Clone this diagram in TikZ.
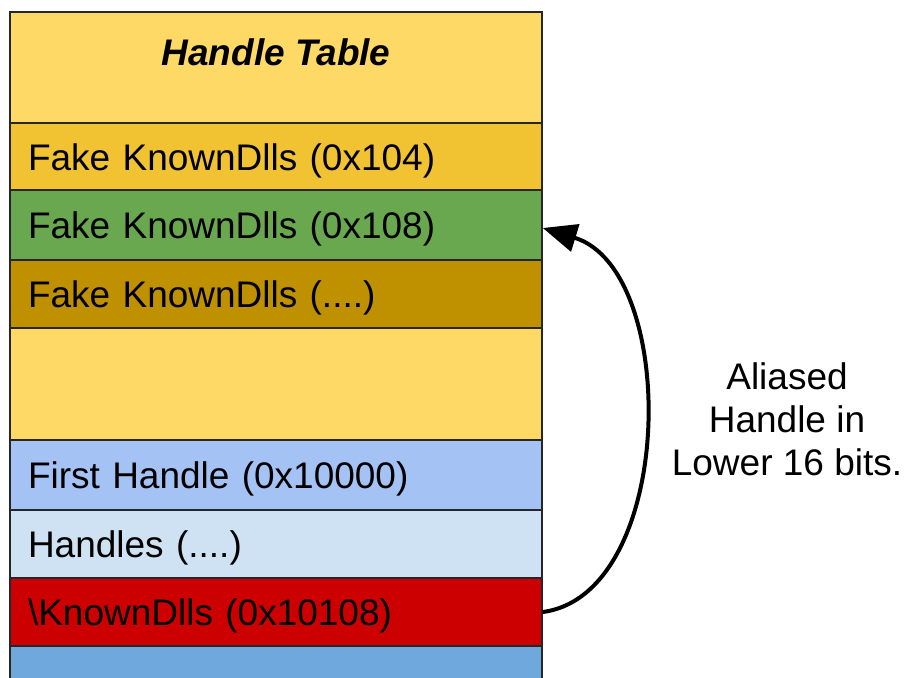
\documentclass[tikz,border=0pt]{standalone}
\usepackage{fontspec}
\setmainfont{Liberation Sans}
\usetikzlibrary{arrows.meta}
\definecolor{ytitle}{HTML}{FFD966}
\definecolor{yone}{HTML}{F1C232}
\definecolor{gtwo}{HTML}{6AA84F}
\definecolor{ythree}{HTML}{BF9000}
\definecolor{bfour}{HTML}{A4C2F4}
\definecolor{bfive}{HTML}{CFE2F3}
\definecolor{rsix}{HTML}{CC0000}
\definecolor{bseven}{HTML}{6FA8DC}
\definecolor{edge}{HTML}{262626}
\tikzset{
  cell/.style={draw=edge, line width=1.6pt, rectangle, minimum width=532pt,
    text width=496pt, align=left, inner sep=0pt,
    text height=27pt, text depth=0pt,
    font=\fontsize{37}{44}\selectfont},
  conn/.style={line width=4pt, -{Triangle[length=34pt,width=28pt]}},
  lbl/.style={align=center, font=\fontsize{37}{43}\selectfont}
}
\begin{document}
\begin{tikzpicture}[x=1pt,y=-1pt]
\useasboundingbox (0,0) rectangle (904,677);
\clip (0,0) rectangle (904,677);
\fill[white] (0,0) rectangle (904,677);
\node[cell, fill=ytitle, minimum height=111pt, text height=0pt] (title) at (276,67.5) {};
\node[font=\fontsize{37}{44}\selectfont\bfseries\itshape] (ttext) at (276,52) {Handle Table};
\node[cell, fill=yone, minimum height=67pt] (r1) at (276,156.5) {Fake KnownDlls (0x104)};
\node[cell, fill=gtwo, minimum height=70pt] (r2) at (276,225) {Fake KnownDlls (0x108)};
\node[cell, fill=ythree, minimum height=68pt] (r3) at (276,294) {Fake KnownDlls (....)};
\node[cell, fill=ytitle, minimum height=112pt, text height=0pt] (r4) at (276,384) {};
\node[cell, fill=bfour, minimum height=70pt] (r5) at (276,475) {First Handle (0x10000)};
\node[cell, fill=bfive, minimum height=68pt] (r6) at (276,544) {Handles (....)};
\node[cell, fill=rsix, minimum height=68pt] (r7) at (276,612) {\textbackslash KnownDlls (0x10108)};
\node[cell, fill=bseven, minimum height=60pt, text height=0pt] (r8) at (276,676) {};
\node[lbl] (label) at (787,419) {Aliased\\Handle in\\Lower 16 bits.};
\draw[conn] (r7.east) .. controls (676,594) and (680,270) .. ([yshift=-3pt]r2.east);
\end{tikzpicture}
\end{document}
